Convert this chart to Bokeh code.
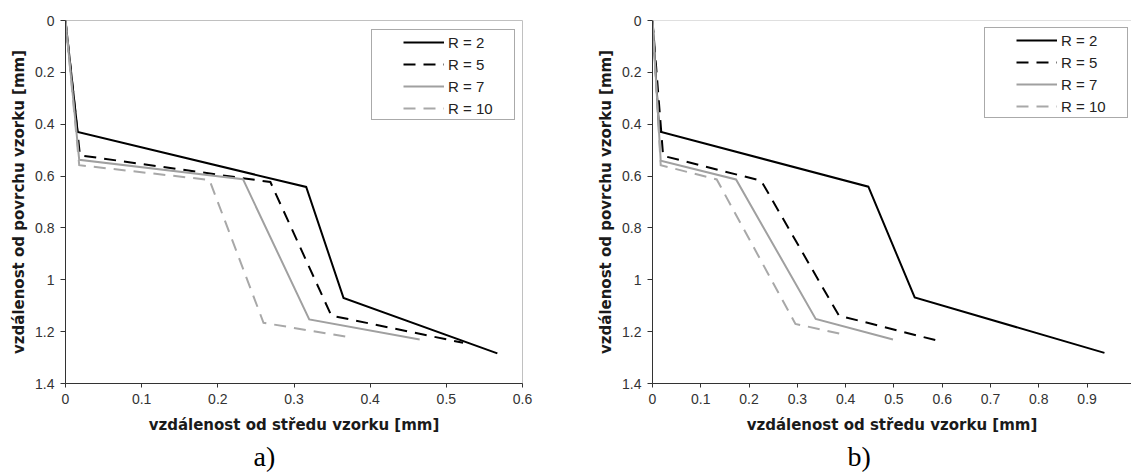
from bokeh.plotting import figure
from bokeh.layouts import row
from bokeh.models import Range1d, FixedTicker, Span, Legend, LegendItem, Title
from bokeh.embed import file_html
from bokeh.resources import INLINE

# ---------------- data ----------------
series_names = ["R = 2", "R = 5", "R = 7", "R = 10"]

# panel a)
a_R2_x = [0, 0.016, 0.316, 0.365, 0.567]
a_R2_y = [0, 0.430, 0.642, 1.070, 1.284]
a_R5_x = [0, 0.019, 0.269, 0.349, 0.522]
a_R5_y = [0, 0.520, 0.623, 1.138, 1.243]
a_R7_x = [0, 0.018, 0.233, 0.320, 0.465]
a_R7_y = [0, 0.537, 0.612, 1.153, 1.230]
a_R10_x = [0, 0.018, 0.189, 0.260, 0.374]
a_R10_y = [0, 0.558, 0.615, 1.166, 1.222]

# panel b)
b_R2_x = [0, 0.014, 0.447, 0.543, 0.936]
b_R2_y = [0, 0.428, 0.641, 1.068, 1.282]
b_R5_x = [0, 0.022, 0.225, 0.386, 0.595]
b_R5_y = [0, 0.522, 0.618, 1.138, 1.237]
b_R7_x = [0, 0.017, 0.173, 0.338, 0.498]
b_R7_y = [0, 0.541, 0.613, 1.151, 1.230]
b_R10_x = [0, 0.017, 0.133, 0.296, 0.396]
b_R10_y = [0, 0.558, 0.613, 1.170, 1.211]

y_ticks = [0, 0.2, 0.4, 0.6, 0.8, 1.0, 1.2, 1.4]
y_tick_labels = ["0", "0.2", "0.4", "0.6", "0.8", "1", "1.2", "1.4"]
a_x_ticks = [0, 0.1, 0.2, 0.3, 0.4, 0.5, 0.6]
a_x_tick_labels = ["0", "0.1", "0.2", "0.3", "0.4", "0.5", "0.6"]
b_x_ticks = [0, 0.1, 0.2, 0.3, 0.4, 0.5, 0.6, 0.7, 0.8, 0.9]
b_x_tick_labels = ["0", "0.1", "0.2", "0.3", "0.4", "0.5", "0.6", "0.7", "0.8", "0.9"]

x_title = "vzdálenost od středu vzorku [mm]"
y_title = "vzdálenost od povrchu vzorku [mm]"
panel_labels = ["a)", "b)"]

# ---------------- styles ----------------
styles = [
    dict(line_color="#000000", line_width=2, line_dash="solid"),
    dict(line_color="#000000", line_width=2, line_dash="12 8"),
    dict(line_color="#a0a0a0", line_width=2, line_dash="solid"),
    dict(line_color="#a8a8a8", line_width=2, line_dash="12 8"),
]


def make_panel(width, left, top, xend, xticks, xlabels, series, legend_loc, label_off, label_txt, outline):
    p = figure(width=width, height=473, output_backend="svg", toolbar_location=None,
               x_range=Range1d(0, xend), y_range=Range1d(1.4, 0),
               min_border_left=left, min_border_right=0 if not outline else width - left - 457,
               min_border_top=top, min_border_bottom=90)
    p.background_fill_color = "white"
    p.border_fill_color = "white"
    p.xgrid.visible = False
    p.ygrid.visible = False
    if outline:
        p.outline_line_color = "#c0c0c0"
        p.outline_line_width = 1
    else:
        p.outline_line_color = None
        p.add_layout(Span(location=0, dimension="width", line_color="#c0c0c0", line_width=1))

    for ax, ticks, labels in ((p.xaxis[0], xticks, xlabels), (p.yaxis[0], y_ticks, y_tick_labels)):
        ax.ticker = FixedTicker(ticks=ticks)
        ax.major_label_overrides = {t: l for t, l in zip(ticks, labels)}
        ax.axis_line_color = "#333333"
        ax.major_tick_line_color = "#333333"
        ax.minor_tick_line_color = None
        ax.major_tick_in = 0
        ax.major_label_text_font = "Liberation Sans"
        ax.major_label_text_font_size = "14px"
        ax.major_label_text_color = "#333333"
        ax.axis_label_text_font = "DejaVu Sans"
        ax.axis_label_text_font_size = "15px"
        ax.axis_label_text_font_style = "bold"
        ax.axis_label_text_color = "#1a1a1a"
    p.xaxis[0].major_tick_out = 4
    p.yaxis[0].major_tick_out = 5
    p.xaxis[0].major_label_standoff = 6
    p.yaxis[0].major_label_standoff = 6
    p.xaxis[0].axis_label_standoff = 9
    p.yaxis[0].axis_label_standoff = 4
    p.xaxis[0].axis_label = x_title
    p.yaxis[0].axis_label = y_title

    items = []
    for (xs, ys), st, name in zip(series, styles, series_names):
        r = p.line(xs, ys, line_join="miter", **st)
        items.append(LegendItem(label=name, renderers=[r]))

    leg = Legend(items=items, location=legend_loc)
    leg.label_text_font = "Liberation Sans"
    leg.label_text_font_size = "15px"
    leg.label_text_color = "#222222"
    leg.glyph_width = 41
    leg.glyph_height = 18
    leg.label_height = 18
    leg.label_standoff = 4
    leg.spacing = 4
    leg.margin = 0
    leg.border_line_color = "#555555"
    leg.border_line_width = 1
    leg.background_fill_color = "white"
    leg.background_fill_alpha = 1
    try:
        leg.padding = dict(left=31, right=21, top=3, bottom=2)
    except Exception:
        leg.padding = 4
        leg.glyph_width = 66
    p.add_layout(leg, "center")

    t = Title(text=label_txt, align="left", offset=label_off, standoff=4,
              text_font="Liberation Serif", text_font_size="28px",
              text_font_style="normal", text_color="#000000")
    p.add_layout(t, "below")
    return p


pa = make_panel(560, 65, 20, 0.6, a_x_ticks, a_x_tick_labels,
                [(a_R2_x, a_R2_y), (a_R5_x, a_R5_y), (a_R7_x, a_R7_y), (a_R10_x, a_R10_y)],
                (306, 263), 188, panel_labels[0], True)
pb = make_panel(571, 92, 17, 0.992, b_x_ticks, b_x_tick_labels,
                [(b_R2_x, b_R2_y), (b_R5_x, b_R5_y), (b_R7_x, b_R7_y), (b_R10_x, b_R10_y)],
                (332, 265), 195, panel_labels[1], False)

layout = row(pa, pb)
open("out.html", "w").write(file_html(layout, INLINE))
